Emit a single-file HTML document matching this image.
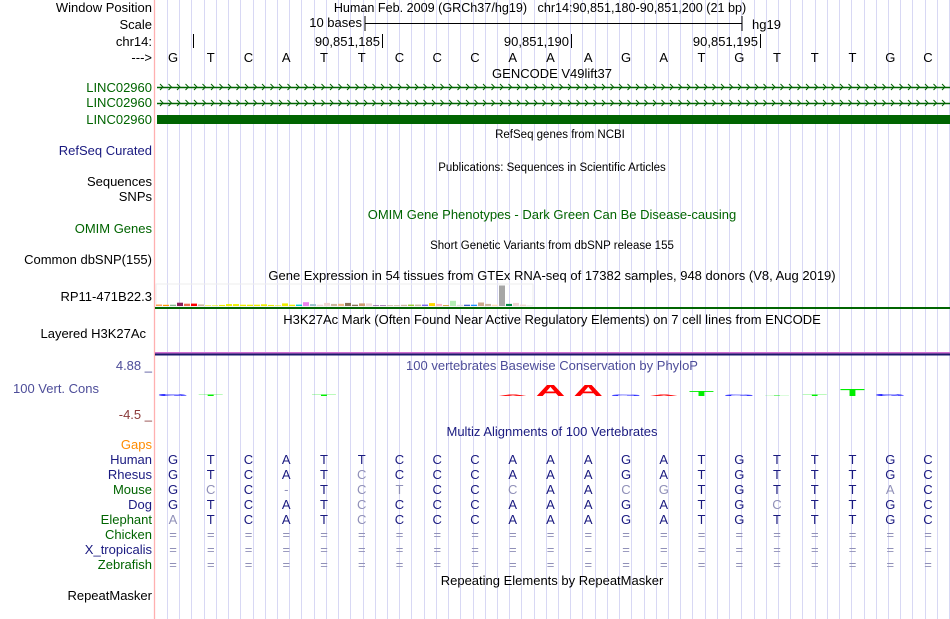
<!DOCTYPE html>
<html><head><meta charset="utf-8"><style>
html,body{margin:0;padding:0;background:#fff;}
svg{display:block;font-family:"Liberation Sans",sans-serif;}
</style></head><body>
<svg id="c" width="950" height="619" viewBox="0 0 950 619">
<g id="grid"></g>
<line x1="154.5" y1="0" x2="154.5" y2="619" stroke="#ffb0b0" stroke-width="1.3"/>
<g font-size="13" text-anchor="end" fill="#000">
<text x="152" y="12">Window Position</text>
<text x="152" y="29">Scale</text>
<text x="152" y="46">chr14:</text>
<text x="152" y="62">---&gt;</text>
<text x="152" y="92" fill="#006400">LINC02960</text>
<text x="152" y="107" fill="#006400">LINC02960</text>
<text x="152" y="124" fill="#006400">LINC02960</text>
<text x="152" y="155" fill="#1a1a80">RefSeq Curated</text>
<text x="152" y="186">Sequences</text>
<text x="152" y="201">SNPs</text>
<text x="152" y="233" fill="#006400">OMIM Genes</text>
<text x="152" y="264">Common dbSNP(155)</text>
<text x="152" y="301">RP11-471B22.3</text>
<text x="146" y="338">Layered H3K27Ac</text>
<text x="152" y="370" fill="#4d4d99">4.88 _</text>
<text x="99" y="393" fill="#4d4d99">100 Vert. Cons</text>
<text x="152" y="419" fill="#8b3a3a">-4.5 _</text>
<text x="152" y="449" fill="#ff8c00">Gaps</text>
<text x="152" y="600">RepeatMasker</text>
</g>
<g font-size="13" text-anchor="middle">
<text x="540" y="12" font-size="12.6">Human Feb. 2009 (GRCh37/hg19) &#160; chr14:90,851,180-90,851,200 (21 bp)</text>
<text x="552" y="78">GENCODE V49lift37</text>
<text x="560" y="138" font-size="11.5">RefSeq genes from NCBI</text>
<text x="552" y="171" font-size="11.5">Publications: Sequences in Scientific Articles</text>
<text x="552" y="219" fill="#006400">OMIM Gene Phenotypes - Dark Green Can Be Disease-causing</text>
<text x="552" y="249" font-size="11.5">Short Genetic Variants from dbSNP release 155</text>
<text x="552" y="280">Gene Expression in 54 tissues from GTEx RNA-seq of 17382 samples, 948 donors (V8, Aug 2019)</text>
<text x="552" y="324">H3K27Ac Mark (Often Found Near Active Regulatory Elements) on 7 cell lines from ENCODE</text>
<text x="552" y="370" fill="#4d4d99">100 vertebrates Basewise Conservation by PhyloP</text>
<text x="552" y="436" fill="#1a1a80">Multiz Alignments of 100 Vertebrates</text>
<text x="552" y="585">Repeating Elements by RepeatMasker</text>
</g>
<g font-size="13">
<text x="362" y="27" text-anchor="end">10 bases</text>
<line x1="365" y1="23.5" x2="742" y2="23.5" stroke="#000"/>
<line x1="365" y1="16" x2="365" y2="31" stroke="#000"/>
<line x1="742" y1="16" x2="742" y2="31" stroke="#000"/>
<text x="752" y="29">hg19</text>
<line x1="193.5" y1="34" x2="193.5" y2="48" stroke="#000"/>
<text x="380" y="46" text-anchor="end">90,851,185</text>
<line x1="382.5" y1="34" x2="382.5" y2="48" stroke="#000"/>
<text x="569" y="46" text-anchor="end">90,851,190</text>
<line x1="571.5" y1="34" x2="571.5" y2="48" stroke="#000"/>
<text x="758" y="46" text-anchor="end">90,851,195</text>
<line x1="760.5" y1="34" x2="760.5" y2="48" stroke="#000"/>
</g>
<g id="genes"></g>
<rect x="157" y="115" width="793" height="9" fill="#006400"/>
<rect x="156" y="284" width="377" height="22" fill="none" stroke="#eee"/>
<g id="gtex"></g>
<rect x="155" y="307" width="795" height="2" fill="#006400"/>
<rect x="155" y="352" width="795" height="1.5" fill="#d070d0"/>
<rect x="155" y="353.5" width="795" height="2" fill="#1a1a6a"/>
<g id="bases" font-size="13" text-anchor="middle"></g>
<g id="cons"></g>
<g id="align" font-size="13"></g>
</svg>
<script>
var NS="http://www.w3.org/2000/svg";
var refBases=["G","T","C","A","T","T","C","C","C","A","A","A","G","A","T","G","T","T","T","G","C"];
var species=["Human","Rhesus","Mouse","Dog","Elephant","Chicken","X_tropicalis","Zebrafish"];
var speciesSeqs=[
"GTCATTCCCAAAGATGTTTGC",
"GTCATCCCCAAAGATGTTTGC",
"GCC-TCTCCCAACGTGTTTAC",
"GTCATCCCCAAAGATGCTTGC",
"ATCATCCCCAAAGATGTTTGC",
"=====================",
"=====================",
"====================="];
var phyloP=[0.4,0.3,0,0,0.3,0,0,0,0,0.2,2.2,2.2,0.3,0.3,1.0,0.2,0.1,0.2,1.5,0.4,0];
var gtexValues=[1.5,1.2,1.3,3.3,2.3,2.4,1.6,0.6,0.6,1.1,1.9,1.9,1.3,1.3,1.3,1.7,1.1,0.6,2.6,1.3,1.4,3.8,1.9,1.3,3.1,2.1,2.2,3.1,1.3,2.6,2.6,0.6,0.6,0.8,0.8,1.2,1.4,1.4,1.4,2.9,2.1,0.8,5.2,1.2,1.3,1.3,3.5,2.1,1.3,20.5,2.1,3.1,1.4,0.5];
var gtexColors=["#ff9f4f","#ff9900","#88b88f","#8b1f5a","#ee6a50","#ff0000","#cdb79e","#eeee00","#eeee00","#eeee00","#eeee00","#eeee00","#eeee00","#eeee00","#eeee00","#eeee00","#eeee00","#eeee00","#eeee00","#eeee00","#00cdcd","#ee82ee","#9ac0cd","#eed5d2","#eed5d2","#cdb79e","#eebb88","#8b7355","#8b7355","#cd9b6f","#eed5d2","#7a378b","#7a378b","#cdb79e","#cdb79e","#cdb79e","#9acd32","#cdb79e","#7b68ee","#ffd700","#ffb6c1","#cd9b1d","#b4eeb4","#dddddd","#3a5fcd","#1e90ff","#cdaa8d","#cdb79e","#ffdab9","#a6a6a6","#008b45","#eed5d2","#eed5d2","#dddddd"];
var baseColor={A:"#ff0000",C:"#0000ff",G:"#0000ff",T:"#00ee00"};
function xBase(i){return 173+i*37.75;}
function gtexY(v){return 306-v;}
function consH(v){return v*5;}
var c=document.getElementById("grid");
for(var gx=167;gx<950;gx+=12.22){
var l=document.createElementNS(NS,"line");
l.setAttribute("x1",Math.round(gx)+0.5);l.setAttribute("x2",Math.round(gx)+0.5);
l.setAttribute("y1",0);l.setAttribute("y2",619);l.setAttribute("stroke","#d8d8f4");


c.appendChild(l);}
var g=document.getElementById("genes");
[87,103].forEach(function(y){
var ln=document.createElementNS(NS,"line");
ln.setAttribute("x1",157);ln.setAttribute("x2",950);ln.setAttribute("y1",y+0.5);ln.setAttribute("y2",y+0.5);ln.setAttribute("stroke","#006400");ln.setAttribute("stroke-width","1.5");


g.appendChild(ln);
var d="";
for(var ax=160;ax<948;ax+=8.5){d+="M"+ax+" "+(y-3)+"l3 3l-3 3";}
var p=document.createElementNS(NS,"path");p.setAttribute("d",d);p.setAttribute("stroke","#006400");p.setAttribute("fill","none");


g.appendChild(p);});
var gt=document.getElementById("gtex");
gtexValues.forEach(function(v,i){
var r=document.createElementNS(NS,"rect");
r.setAttribute("x",156+i*7);r.setAttribute("width",6);r.setAttribute("y",gtexY(v));r.setAttribute("height",v);r.setAttribute("fill",gtexColors[i]);


gt.appendChild(r);});
var b=document.getElementById("bases");
refBases.forEach(function(s,i){
var t=document.createElementNS(NS,"text");t.setAttribute("x",xBase(i));t.setAttribute("y",62);t.textContent=s;


b.appendChild(t);});
var cg=document.getElementById("cons");
phyloP.forEach(function(v,i){
if(v<=0)return;
var h=consH(v),base=refBases[i];
var t=document.createElementNS(NS,"text");
t.setAttribute("x",0);t.setAttribute("y",0);
t.setAttribute("font-size","12");t.setAttribute("font-weight","bold");t.setAttribute("text-anchor","middle");
t.setAttribute("fill",baseColor[base]);
t.setAttribute("transform","translate("+xBase(i)+",396) scale(3.4,"+(h/8.6)+")");
t.textContent=base;


cg.appendChild(t);});
var al=document.getElementById("align");
species.forEach(function(sp,r){
var y=464+r*15;
var lab=document.createElementNS(NS,"text");lab.setAttribute("x",152);lab.setAttribute("y",y);lab.setAttribute("text-anchor","end");
lab.setAttribute("fill",(r==2||r==4||r==5||r==7)?"#006400":"#1a1a80");lab.textContent=sp;


al.appendChild(lab);
var seq=speciesSeqs[r];
for(var i=0;i<seq.length;i++){
var ch=seq[i];
var t=document.createElementNS(NS,"text");t.setAttribute("x",xBase(i));t.setAttribute("y",y);t.setAttribute("text-anchor","middle");
var same=(ch==refBases[i]);
t.setAttribute("fill",same?"#1a1a80":"#9090b8");
t.textContent=ch;


al.appendChild(t);}});
</script>
</body></html>
